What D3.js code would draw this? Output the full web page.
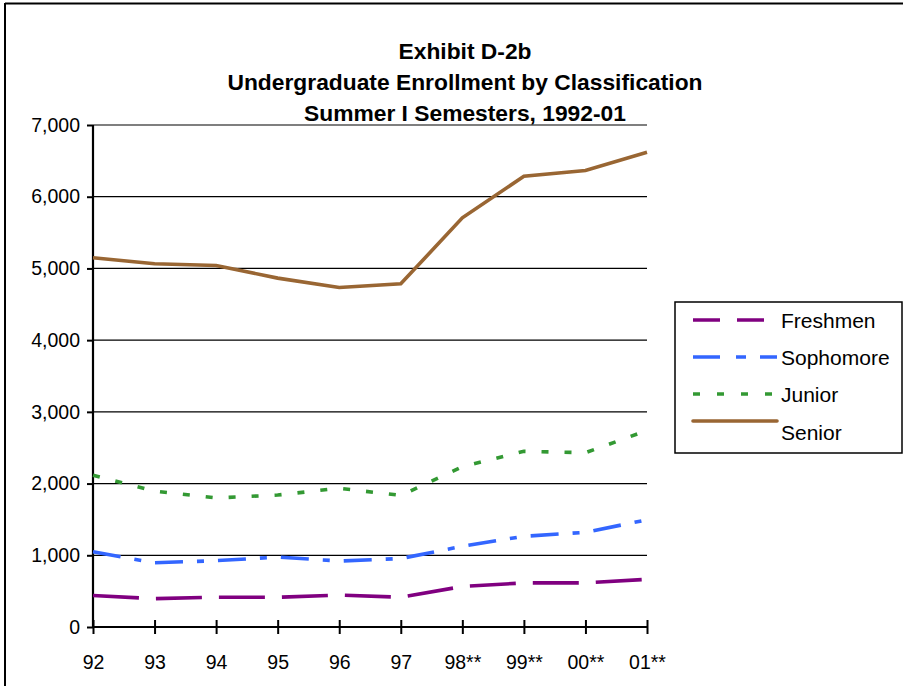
<!DOCTYPE html>
<html><head><meta charset="utf-8">
<script src="https://cdn.jsdelivr.net/npm/d3@7"></script>
<style>body{margin:0;background:#fff}svg{display:block;font-family:"Liberation Sans",Arial,sans-serif}</style>
</head><body><svg id="c" width="911" height="686"></svg>
<script>
const years = ["92","93","94","95","96","97","98**","99**","00**","01**"];
const freshmen  = [440, 395, 415, 415, 445, 415, 565, 615, 615, 665];
const sophomore = [1050, 895, 925, 975, 920, 955, 1125, 1265, 1320, 1495];
const junior    = [2115, 1895, 1800, 1840, 1935, 1835, 2235, 2450, 2430, 2740];
const senior    = [5150, 5065, 5040, 4865, 4735, 4785, 5705, 6285, 6365, 6620];
const yTicks = [0,1000,2000,3000,4000,5000,6000,7000];
const seriesNames = ["Freshmen","Sophomore","Junior","Senior"];
const titleLines = ["Exhibit D-2b","Undergraduate Enrollment by Classification","Summer I Semesters, 1992-01"];

const series = [
  {name:seriesNames[0], values:freshmen,  color:"#800080", dash:"46,17", ldash:"27,17"},
  {name:seriesNames[1], values:sophomore, color:"#3366ff", dash:"28,14,7,14", ldash:"27,16,10,14"},
  {name:seriesNames[2], values:junior,    color:"#339933", dash:"7,16", ldash:"7,17"},
  {name:seriesNames[3], values:senior,    color:"#996633", dash:null, ldash:null}
];

const FONT = "Liberation Sans, Arial, sans-serif";
const svg = d3.select("#c");
svg.append("line").attr("x1",5).attr("x2",903).attr("y1",3.5).attr("y2",3.5).attr("stroke","#000").attr("stroke-width",2);
svg.append("line").attr("x1",5).attr("x2",5).attr("y1",3).attr("y2",686).attr("stroke","#000").attr("stroke-width",2);

const x = d3.scalePoint().domain(years).range([93,647]);
const y = d3.scaleLinear().domain([0,7000]).range([627,125]);

svg.append("g").selectAll("line").data(yTicks.filter(d=>d>0)).join("line")
  .attr("x1",93).attr("x2",647).attr("y1",d=>y(d)).attr("y2",d=>y(d))
  .attr("stroke","#000").attr("stroke-width",1.2);

svg.append("g").selectAll("text").data(titleLines).join("text")
  .attr("x",465).attr("y",(d,i)=>59+i*31).attr("text-anchor","middle")
  .attr("font-family",FONT).attr("font-weight","bold").attr("font-size",22.8).text(d=>d);

const ya = svg.append("g").attr("transform","translate(93,0)")
  .call(d3.axisLeft(y).tickValues(yTicks).tickFormat(d3.format(",")).tickSize(6).tickPadding(7));
ya.attr("font-family",FONT);
ya.select(".domain").attr("stroke-width",2.2).attr("d","M0,"+y(7000)+"V"+y(0));
ya.selectAll(".tick line").attr("stroke-width",2);
ya.selectAll("text").attr("font-size",19.5);

const xa = svg.append("g").attr("transform","translate(0,627)")
  .call(d3.axisBottom(x).tickSize(7).tickPadding(21));
xa.attr("font-family",FONT);
xa.select(".domain").attr("stroke-width",2.2).attr("d","M93,0H647");
xa.selectAll(".tick line").attr("y1",-7).attr("y2",7).attr("stroke-width",2);
xa.selectAll("text").attr("font-size",19.5);

const line = d3.line().x((d,i)=>x(years[i])).y(d=>y(d));
svg.append("g").selectAll("path").data(series).join("path")
  .attr("d",d=>line(d.values)).attr("fill","none")
  .attr("stroke",d=>d.color).attr("stroke-width",3.6)
  .attr("stroke-dasharray",d=>d.dash);

const lg = svg.append("g").attr("font-family",FONT);
lg.append("rect").attr("x",675).attr("y",302).attr("width",227).attr("height",151)
  .attr("fill","#fff").attr("stroke","#000").attr("stroke-width",1.5);
const rows = [320,357,394,421];
const textY = [328,365,402,440];
series.forEach((s,i)=>{
  lg.append("line").attr("x1",693).attr("x2",777).attr("y1",rows[i]).attr("y2",rows[i])
    .attr("stroke",s.color).attr("stroke-width",3.6).attr("stroke-dasharray",s.ldash)
    .attr("stroke-linecap",s.ldash?null:"round");
  lg.append("text").attr("x",781).attr("y",textY[i]).attr("font-size",21).text(s.name);
});
</script></body></html>
